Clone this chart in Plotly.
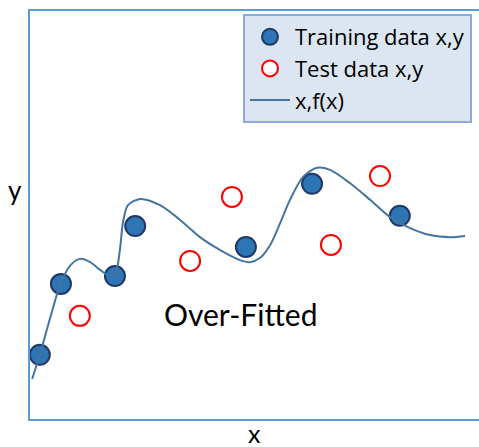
import plotly.graph_objects as go

# Training data (filled markers)
train_x = [0.24, 0.71, 1.91, 2.36, 4.82, 6.29, 8.24]
train_y = [1.59, 3.32, 3.51, 4.73, 4.22, 5.76, 4.98]

# Test data (hollow markers)
test_x = [1.13, 3.58, 4.51, 6.71, 7.80]
test_y = [2.54, 3.88, 5.44, 4.27, 5.95]

# Over-fitted curve f(x)
curve_x = [0.07, 0.24, 0.47, 0.69, 0.91, 1.13, 1.36, 1.58, 1.80, 1.93, 2.02, 2.09,
           2.20, 2.47, 2.91, 3.36, 3.80, 4.24, 4.69, 4.91, 5.13, 5.36, 5.58, 5.80,
           6.09, 6.40, 6.69, 7.13, 7.58, 8.02, 8.47, 8.91, 9.36, 9.69]
curve_y = [1.00, 1.59, 2.49, 3.29, 3.76, 3.93, 3.85, 3.66, 3.51, 3.61, 4.15, 4.83,
           5.24, 5.39, 5.24, 4.88, 4.46, 4.15, 3.90, 3.85, 3.95, 4.27, 4.80, 5.37,
           5.93, 6.15, 6.10, 5.78, 5.37, 4.95, 4.68, 4.51, 4.46, 4.49]

FONT = "Lato"
LEGEND_FONT = "Open Sans"
AXIS_COLOR = "#5b9bd5"

W, H = 479, 447
L, R, T, B = 29, 0, 10, 27
PW, PH = W - L - R, H - T - B          # plot area size in px
XMAX = PW / 45.0                       # 45 px per x unit
def px_x(p): return (p - L) / PW       # pixel -> paper x
def px_y(p): return (H - B - p) / PH   # pixel -> paper y

fig = go.Figure()
fig.add_trace(go.Scatter(
    x=train_x, y=train_y, mode="markers", name="Training data x,y",
    marker=dict(size=20, color="#2e75b6", line=dict(color="#1f3864", width=2)),
))
fig.add_trace(go.Scatter(
    x=test_x, y=test_y, mode="markers", name="Test data x,y",
    marker=dict(size=20, color="white", line=dict(color="#ff0000", width=2)),
))
fig.add_trace(go.Scatter(
    x=curve_x, y=curve_y, mode="lines", name="x,f(x)",
    line=dict(color="#44749f", width=2, shape="spline", smoothing=0.8),
))

box_line = dict(color=AXIS_COLOR, width=2)
fig.update_layout(
    width=W, height=H,
    margin=dict(l=L, r=R, t=T, b=B),
    paper_bgcolor="white", plot_bgcolor="white",
    font=dict(family=FONT, color="black"),
    showlegend=True,
    legend=dict(
        x=px_x(243), y=px_y(14), xanchor="left", yanchor="top",
        bgcolor="#dce6f2", bordercolor="#8eaadb", borderwidth=2,
        font=dict(size=22, family=LEGEND_FONT),
        itemsizing="trace", itemwidth=40, tracegroupgap=0,
    ),
    xaxis=dict(range=[0, XMAX], showgrid=False, zeroline=False, showticklabels=False,
               ticks="", showline=False),
    yaxis=dict(range=[0, 10], showgrid=False, zeroline=False, showticklabels=False,
               ticks="", showline=False),
    shapes=[
        dict(type="line", xref="paper", yref="paper", x0=0, y0=-0.002, x1=0, y1=1.002, line=box_line),
        dict(type="line", xref="paper", yref="paper", x0=-0.002, y0=0, x1=1.02, y1=0, line=box_line),
        dict(type="line", xref="paper", yref="paper", x0=-0.002, y0=1, x1=1.02, y1=1, line=box_line),
    ],
    annotations=[
        dict(text="y", x=px_x(15), y=px_y(190), xref="paper", yref="paper",
             showarrow=False, xanchor="center", yanchor="middle",
             font=dict(size=26, family=FONT)),
        dict(text="x", x=px_x(254), y=px_y(433), xref="paper", yref="paper",
             showarrow=False, xanchor="center", yanchor="middle",
             font=dict(size=25, family=FONT)),
        dict(text="Over-Fitted", x=4.71, y=2.58, xref="x", yref="y", showarrow=False,
             xanchor="center", yanchor="middle", font=dict(size=30, family=FONT)),
    ],
)

fig.write_html("out.html", config={"displayModeBar": False},
               post_script="document.body.style.margin='0';")
